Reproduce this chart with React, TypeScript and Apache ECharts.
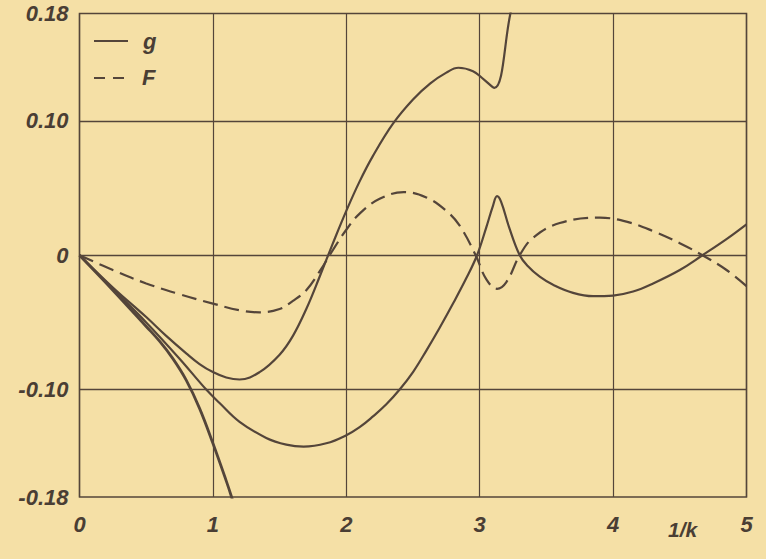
import React, { useEffect, useRef } from "react";
import * as echarts from "echarts";

// g (upper solid)
const gCurve: number[][] = [
  [0, 0], [0.25, -0.024], [0.5, -0.046], [0.65, -0.06], [0.8, -0.073], [0.9, -0.081],
  [1.0, -0.087], [1.1, -0.091], [1.2, -0.0925], [1.35, -0.087], [1.5, -0.074], [1.6, -0.06],
  [1.7, -0.04], [1.8, -0.016], [1.9, 0.009], [2.0, 0.033], [2.1, 0.055], [2.2, 0.074],
  [2.35, 0.098], [2.5, 0.116], [2.63, 0.128], [2.75, 0.136], [2.84, 0.1396],
  [2.95, 0.137], [3.03, 0.131], [3.11, 0.1246], [3.23, 0.18], [3.26, 0.195],
];
// lower solid branch
const gLower: number[][] = [
  [0, 0], [0.25, -0.025], [0.5, -0.05], [0.75, -0.077], [0.95, -0.1], [1.05, -0.11],
  [1.2, -0.124], [1.4, -0.136], [1.55, -0.141], [1.68, -0.1425], [1.85, -0.14],
  [2.0, -0.134], [2.1, -0.128], [2.2, -0.12], [2.3, -0.111], [2.4, -0.1], [2.5, -0.087],
  [2.6, -0.071], [2.7, -0.054], [2.8, -0.036], [2.9, -0.017], [2.98, 0], [3.05, 0.021],
  [3.1, 0.037], [3.13, 0.044], [3.16, 0.04], [3.22, 0.021], [3.3, 0], [3.36, -0.008],
  [3.45, -0.016], [3.55, -0.022], [3.7, -0.028], [3.85, -0.0305],
  [4.0, -0.03], [4.15, -0.027], [4.3, -0.021], [4.5, -0.011], [4.67, 0], [4.85, 0.012],
  [5.0, 0.023],
];
// steep solid branch
const gSteep: number[][] = [
  [0, 0], [0.25, -0.026], [0.5, -0.053], [0.6, -0.064], [0.7, -0.077], [0.8, -0.093],
  [0.9, -0.114], [1.0, -0.14], [1.1, -0.168], [1.14, -0.18], [1.17, -0.19],
];
// F (dashed)
const fCurve: number[][] = [
  [0, 0], [0.25, -0.011], [0.5, -0.021], [0.75, -0.029], [1.0, -0.036], [1.2, -0.041],
  [1.35, -0.0425], [1.5, -0.04], [1.6, -0.034], [1.7, -0.026], [1.8, -0.012],
  [1.9, 0.004], [2.0, 0.019], [2.1, 0.031], [2.25, 0.042], [2.43, 0.047], [2.6, 0.043],
  [2.75, 0.033], [2.85, 0.022], [2.97, 0], [3.05, -0.018], [3.13, -0.025], [3.2, -0.02],
  [3.3, 0], [3.4, 0.013], [3.6, 0.024], [3.9, 0.028], [4.1, 0.025], [4.3, 0.018],
  [4.5, 0.009], [4.67, 0], [4.85, -0.011], [5.0, -0.023],
];

const yTicks = [-0.18, -0.1, 0, 0.1, 0.18];
const yGridLines = [-0.1, 0, 0.1];
const legendNames = ["g", "F"];
const xMin = 0;
const xMax = 5;

const INK = "#54453a";
const TEXT = "#4a3e34";
const BG = "#f5e0a6";

export default function App() {
  const ref = useRef<HTMLDivElement>(null);
  useEffect(() => {
    if (!ref.current) return;
    const chart = echarts.init(ref.current, undefined, { renderer: "svg" });
    const font = {
      fontFamily: "Liberation Sans",
      fontStyle: "italic" as const,
      fontWeight: "bold" as const,
      fontSize: 22,
      color: TEXT,
    };
    const cssFont = "italic bold 22px 'Liberation Sans'";
    chart.setOption({
      animation: false,
      backgroundColor: BG,
      grid: {
        left: 79.5,
        right: 19.5,
        top: 13.5,
        bottom: 62,
        show: true,
        borderColor: INK,
        borderWidth: 1.5,
        backgroundColor: "transparent",
      },
      xAxis: {
        type: "value",
        min: xMin,
        max: xMax,
        interval: 1,
        axisLine: { show: false },
        axisTick: { show: false },
        axisLabel: { ...font, margin: 16 },
        splitLine: { show: true, lineStyle: { color: INK, width: 1.2 } },
      },
      yAxis: {
        type: "value",
        min: -0.18,
        max: 0.18,
        axisLine: { show: false },
        axisTick: { show: false },
        splitLine: { show: false },
        axisLabel: {
          ...font,
          margin: 11,
          customValues: yTicks,
          formatter: (v: number) =>
            Math.abs(v) < 1e-9 ? "0" : (v < 0 ? "-" : "") + Math.abs(v).toFixed(2),
        },
      },
      graphic: [
        {
          type: "line",
          shape: { x1: 94, y1: 41, x2: 128, y2: 41 },
          style: { stroke: INK, lineWidth: 2.2 },
        },
        {
          type: "text",
          left: 143,
          top: 30,
          style: { text: legendNames[0], font: cssFont, fill: TEXT },
        },
        {
          type: "line",
          shape: { x1: 94, y1: 78, x2: 128, y2: 78 },
          style: { stroke: INK, lineWidth: 2.2, lineDash: [11, 8] },
        },
        {
          type: "text",
          left: 142,
          top: 66,
          style: { text: legendNames[1], font: cssFont, fill: TEXT },
        },
        {
          type: "text",
          left: 668,
          top: 519,
          style: {
            text: "1/k",
            font: "italic bold 21px 'Liberation Sans'",
            fill: TEXT,
          },
        },
      ],
      series: [
        {
          name: "grid",
          type: "line",
          data: [],
          silent: true,
          markLine: {
            silent: true,
            symbol: "none",
            label: { show: false },
            lineStyle: { color: INK, width: 1.3, type: "solid" },
            data: yGridLines.map((y) => ({ yAxis: y })),
          },
        },
        {
          name: legendNames[0],
          type: "line",
          data: gCurve,
          smooth: 0.4,
          symbol: "none",
          clip: true,
          lineStyle: { color: INK, width: 2.2 },
        },
        {
          name: "g-lower",
          type: "line",
          data: gLower,
          smooth: 0.4,
          symbol: "none",
          clip: true,
          lineStyle: { color: INK, width: 2.2 },
        },
        {
          name: "g-steep",
          type: "line",
          data: gSteep,
          smooth: 0.4,
          symbol: "none",
          clip: true,
          lineStyle: { color: INK, width: 2.8 },
        },
        {
          name: legendNames[1],
          type: "line",
          data: fCurve,
          smooth: 0.4,
          symbol: "none",
          clip: true,
          lineStyle: { color: INK, width: 2.2, type: [15, 7] },
        },
      ],
    });
    return () => chart.dispose();
  }, []);
  return (
    <div
      ref={ref}
      style={{ position: "fixed", left: 0, top: 0, width: 766, height: 559 }}
    />
  );
}
